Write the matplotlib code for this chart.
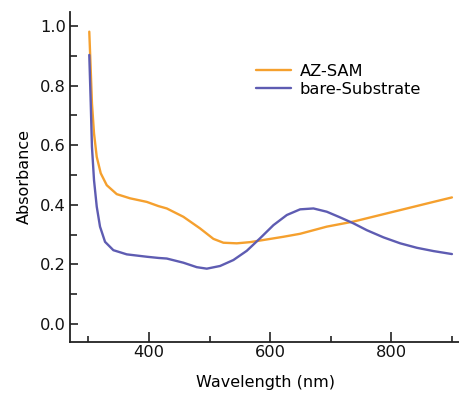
import matplotlib
matplotlib.use("Agg")
import matplotlib.pyplot as plt
from matplotlib.ticker import MultipleLocator

plt.rcParams['font.family'] = ['DejaVu Sans']

az_wl = [301.6, 304.0, 306.0, 309.4, 313.9, 320.5, 330.4, 346.9, 368.8, 396.4, 415.5,
         429.4, 456.8, 484.3, 506.3, 522.8, 544.9, 566.8, 594.4, 621.8, 649.3,
         693.3, 737.3, 781.3, 825.4, 869.3, 899.7]
az_abs = [0.981, 0.852, 0.741, 0.640, 0.561, 0.506, 0.466, 0.436, 0.422, 0.410, 0.396,
          0.388, 0.360, 0.321, 0.286, 0.273, 0.271, 0.275, 0.284, 0.293, 0.303,
          0.327, 0.344, 0.366, 0.388, 0.410, 0.425]

bare_wl = [301.6, 304.0, 306.0, 309.4, 313.9, 319.3, 327.6, 341.3, 363.4, 396.4, 415.5,
           429.4, 456.8, 478.9, 495.4, 517.3, 539.3, 561.4, 583.3, 605.3, 627.4, 649.3,
           671.3, 693.3, 715.3, 737.3, 759.4, 786.8, 814.4, 841.9, 869.3, 899.7]
bare_abs = [0.903, 0.741, 0.595, 0.483, 0.394, 0.327, 0.276, 0.248, 0.234, 0.226, 0.222,
            0.220, 0.206, 0.191, 0.186, 0.195, 0.215, 0.246, 0.288, 0.332, 0.366, 0.385,
            0.388, 0.377, 0.358, 0.338, 0.315, 0.291, 0.271, 0.256, 0.245, 0.235]

series_labels = ["AZ-SAM", "bare-Substrate"]
x_ticks = [400, 600, 800]
y_ticks = [0.0, 0.2, 0.4, 0.6, 0.8, 1.0]

fig = plt.figure(figsize=(4.6, 3.93), dpi=100)
ax = fig.add_axes([70/460, 1-342/393, 390/460, (342-12)/393])

ax.plot(az_wl, az_abs, color='#F5A02E', lw=1.7, label=series_labels[0],
        solid_joinstyle='round', solid_capstyle='round')
ax.plot(bare_wl, bare_abs, color='#5E5CB2', lw=1.7, label=series_labels[1],
        solid_joinstyle='round', solid_capstyle='round')

ax.set_xlim(269.8, 913)
ax.set_ylim(-0.06, 1.047)
ax.set_xticks(x_ticks)
ax.set_yticks(y_ticks)
ax.set_yticklabels([f"{v:.1f}" for v in y_ticks])
ax.xaxis.set_minor_locator(MultipleLocator(100))
ax.yaxis.set_minor_locator(MultipleLocator(0.1))

for s in ['top', 'right']:
    ax.spines[s].set_visible(False)
for s in ['left', 'bottom']:
    ax.spines[s].set_linewidth(1.3)
    ax.spines[s].set_color('#222222')

ax.tick_params(axis='both', which='both', direction='in', width=1.2, colors='#222222', labelcolor='#111111')
ax.tick_params(axis='x', which='major', length=7, labelsize=11.7, pad=2)
ax.tick_params(axis='x', which='minor', length=4)
ax.tick_params(axis='y', which='major', length=5.5, labelsize=11.7, pad=3)
ax.tick_params(axis='y', which='minor', length=5)

ax.set_xlabel("Wavelength (nm)", fontsize=11.5, labelpad=11)
ax.set_ylabel("Absorbance", fontsize=11.5, labelpad=6)

ax.legend(loc='upper left', bbox_to_anchor=((250-70)/390, 1-(57-12)/330), frameon=False,
          fontsize=11.7, handlelength=2.15, handletextpad=0.5, labelspacing=0.2, borderaxespad=0)

fig.savefig("out.png", dpi=100)
